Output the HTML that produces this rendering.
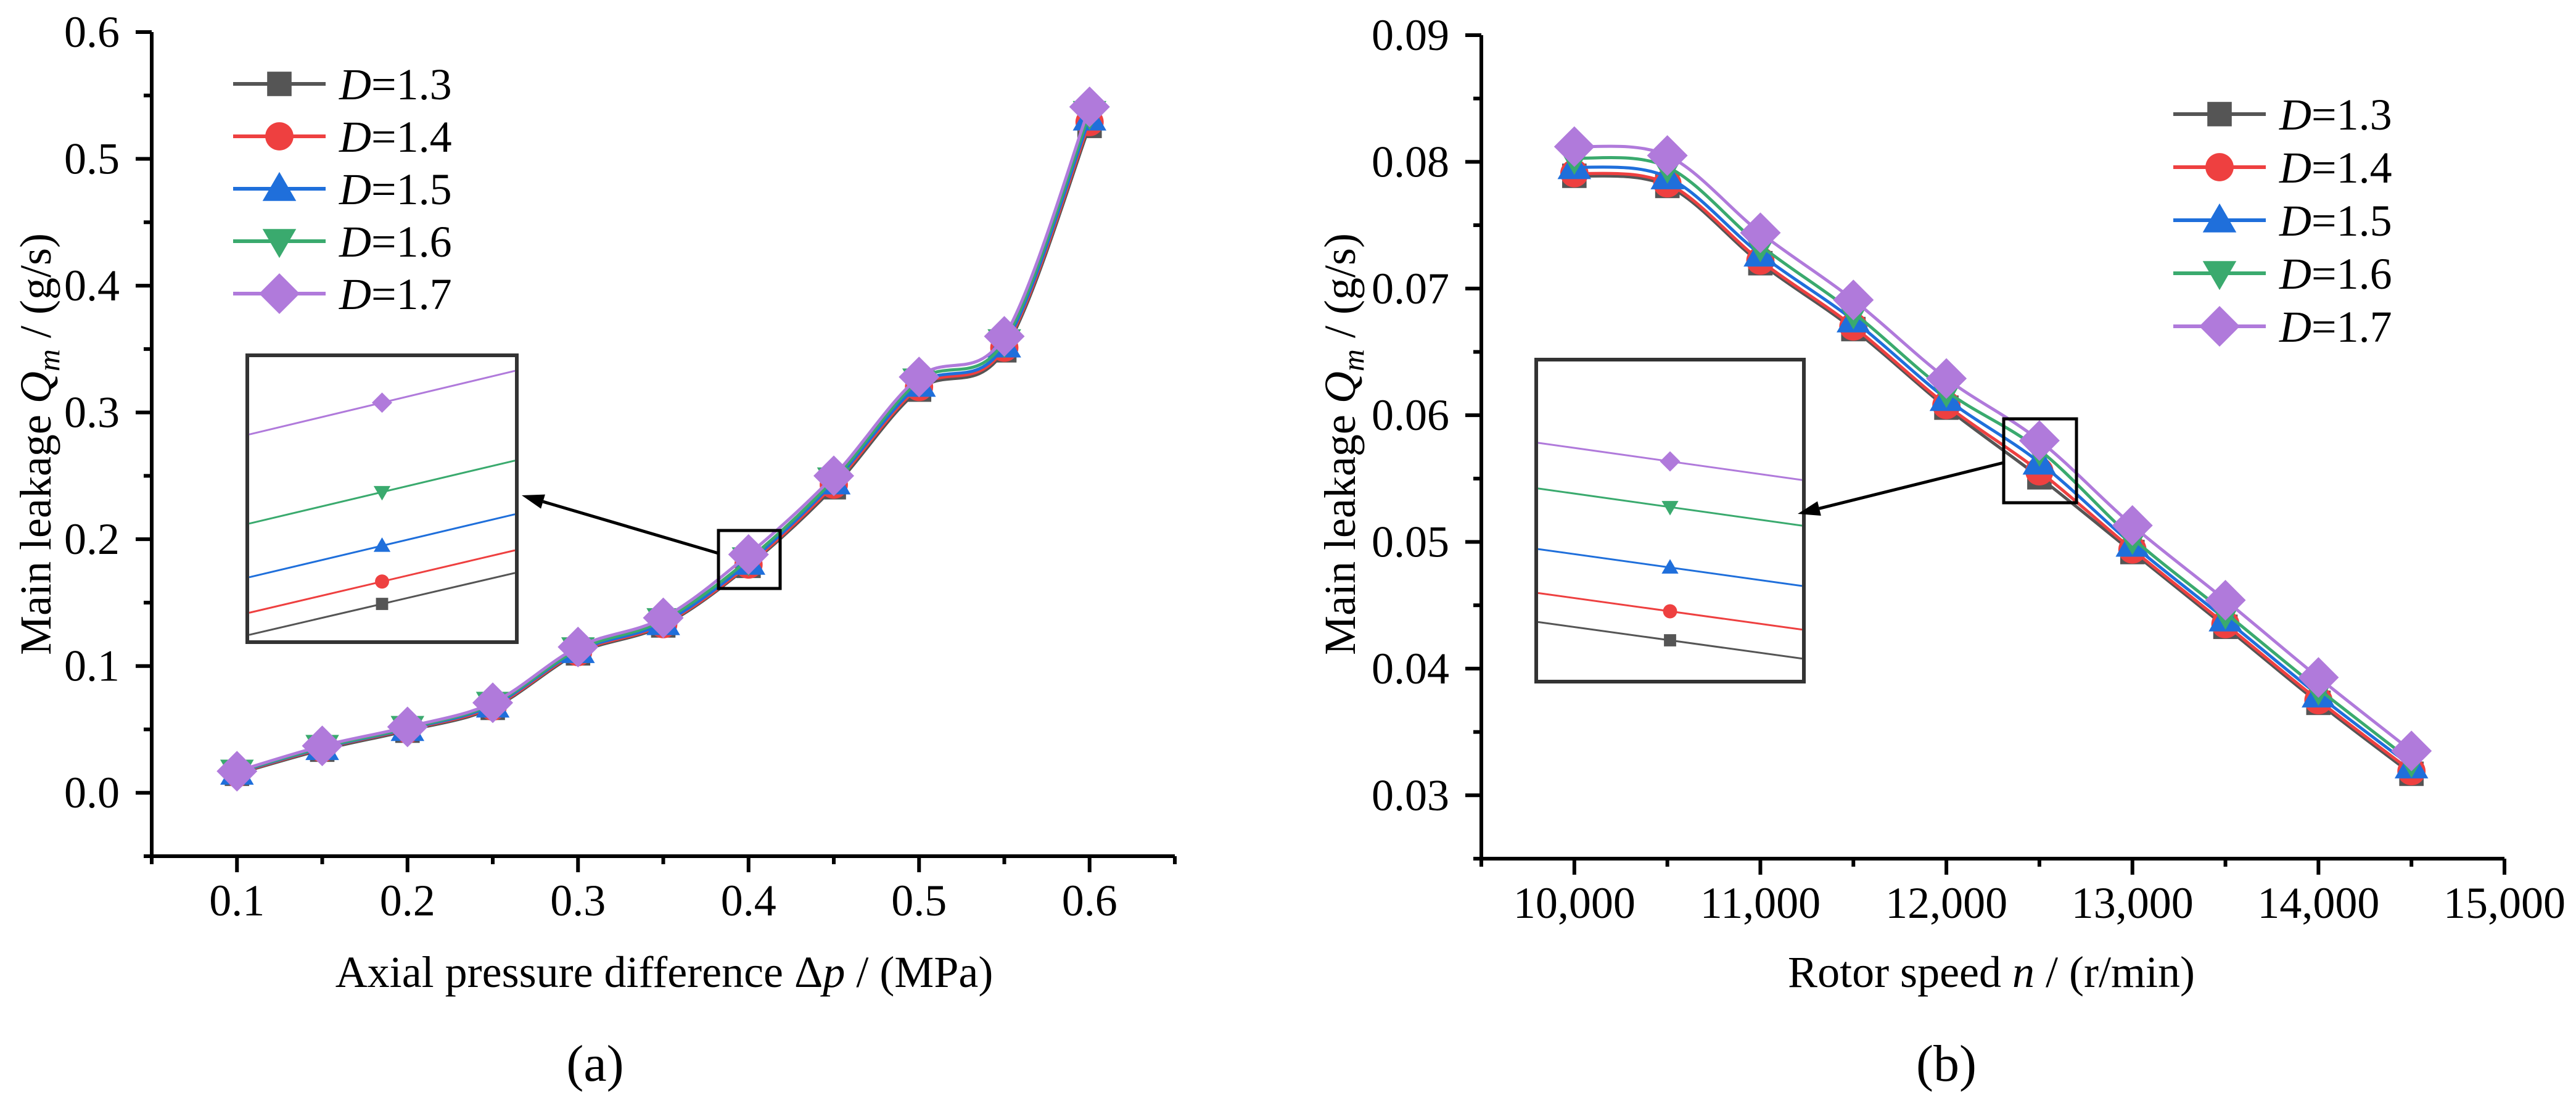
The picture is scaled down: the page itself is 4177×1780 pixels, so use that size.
<!DOCTYPE html>
<html><head><meta charset="utf-8"><style>
html,body{margin:0;padding:0;background:#fff;}
svg{display:block;font-family:"Liberation Serif",serif;}
</style></head><body>
<svg id="svg" width="4177" height="1780" viewBox="0 0 4177 1780" xmlns="http://www.w3.org/2000/svg"></svg>
<script>
const seriesNames = ["1.3","1.4","1.5","1.6","1.7"];
const seriesColors = ["#555555","#EE4040","#1F6FDB","#3AAA6E","#B07ADB"];
const seriesMarkers = ["square","circle","triangle","tridown","diamond"];

const aX = [0.1,0.15,0.2,0.25,0.3,0.35,0.4,0.45,0.5,0.55,0.6];
const aD13 = [0.015,0.034,0.049,0.067,0.110,0.132,0.179,0.241,0.318,0.349,0.526];
const aD14 = [0.0155,0.035,0.050,0.068,0.111,0.133,0.180,0.243,0.320,0.351,0.529];
const aD15 = [0.016,0.0355,0.0505,0.069,0.112,0.134,0.1816,0.245,0.322,0.353,0.532];
const aD16 = [0.0165,0.036,0.051,0.070,0.113,0.136,0.184,0.247,0.325,0.356,0.536];
const aD17 = [0.017,0.037,0.052,0.071,0.115,0.138,0.188,0.250,0.328,0.360,0.541];
const aXTicks = ["0.1","0.2","0.3","0.4","0.5","0.6"];
const aYTicks = ["0.0","0.1","0.2","0.3","0.4","0.5","0.6"];

const bX = [10000,10500,11000,11500,12000,12500,13000,13500,14000,14500];
const bD13 = [0.0789,0.0781,0.0720,0.0668,0.0606,0.0551,0.0492,0.0433,0.0373,0.0317];
const bD14 = [0.0791,0.0783,0.0722,0.0670,0.0608,0.05557,0.0494,0.0435,0.0375,0.0319];
const bD15 = [0.0796,0.0788,0.0727,0.0675,0.0613,0.05628,0.0498,0.0439,0.0379,0.0323];
const bD16 = [0.0803,0.0796,0.0734,0.0681,0.0619,0.05726,0.0503,0.0444,0.0384,0.0327];
const bD17 = [0.0812,0.0805,0.0744,0.0691,0.0629,0.0580,0.0513,0.0454,0.0393,0.0335];
const bXTicks = ["10,000","11,000","12,000","13,000","14,000","15,000"];
const bYTicks = ["0.03","0.04","0.05","0.06","0.07","0.08","0.09"];

const NS="http://www.w3.org/2000/svg";
const svg=document.getElementById('svg');
function el(tag,attrs,parent){const e=document.createElementNS(NS,tag);for(const k in attrs)e.setAttribute(k,attrs[k]);(parent||svg).appendChild(e);return e;}
function lin(d0,d1,r0,r1){return v=>r0+(v-d0)/(d1-d0)*(r1-r0);}

function marker(g,type,x,y,s,color){
  let m;
  if(type==="square"){m=el('rect',{x:x-s*0.45,y:y-s*0.45,width:s*0.9,height:s*0.9,fill:color},g);}
  else if(type==="circle"){m=el('circle',{cx:x,cy:y,r:s*0.52,fill:color},g);}
  else if(type==="triangle"){m=el('polygon',{points:`${x},${y-s*0.62} ${x-s*0.62},${y+s*0.45} ${x+s*0.62},${y+s*0.45}`,fill:color},g);}
  else if(type==="tridown"){m=el('polygon',{points:`${x},${y+s*0.62} ${x-s*0.62},${y-s*0.45} ${x+s*0.62},${y-s*0.45}`,fill:color},g);}
  else {m=el('polygon',{points:`${x},${y-s*0.75} ${x+s*0.75},${y} ${x},${y+s*0.75} ${x-s*0.75},${y}`,fill:color},g);}
  
  
  return m;
}
function smoothPath(pts){
  let d=`M${pts[0][0]},${pts[0][1]}`;
  for(let i=0;i<pts.length-1;i++){
    const p0=pts[Math.max(0,i-1)],p1=pts[i],p2=pts[i+1],p3=pts[Math.min(pts.length-1,i+2)];
    const c1=[p1[0]+(p2[0]-p0[0])/6,p1[1]+(p2[1]-p0[1])/6];
    const c2=[p2[0]-(p3[0]-p1[0])/6,p2[1]-(p3[1]-p1[1])/6];
    d+=` C${c1[0]},${c1[1]} ${c2[0]},${c2[1]} ${p2[0]},${p2[1]}`;
  }
  return d;
}

function chart(cfg){
  const g=el('g',{});
  
  
  const sx=lin(cfg.xd[0],cfg.xd[1],cfg.L,cfg.R), sy=lin(cfg.yd[0],cfg.yd[1],cfg.B,cfg.T);
  const ax=el('path',{d:`M${cfg.L},${cfg.T} L${cfg.L},${cfg.B} L${cfg.R},${cfg.B}`,fill:'none',stroke:'#000','stroke-width':6},g);
  
  
  for(let v=cfg.yd[0];v<=cfg.yd[1]+1e-9;v+=cfg.yMinor){
    const y=sy(v); const idx=Math.round((v-cfg.yTick0)/cfg.yMajor*1e6)/1e6;
    const major=Math.abs(idx-Math.round(idx))<1e-6 && idx>=0;
    const t=el('line',{x1:cfg.L-(major?26:13),x2:cfg.L,y1:y,y2:y,stroke:'#000','stroke-width':6},g);
    
    
  }
  cfg.yLabels.forEach((lab,i)=>{
    const t=el('text',{x:cfg.L-52,y:sy(cfg.yTick0+i*cfg.yMajor)+24,'font-size':72,'text-anchor':'end'},g);
    t.textContent=lab;
    
    
  });
  for(let v=cfg.xd[0];v<=cfg.xd[1]+1e-9;v+=cfg.xMinor){
    const x=sx(v); const idx=(v-cfg.xTick0)/cfg.xMajor;
    const major=Math.abs(idx-Math.round(idx))<1e-6 && idx>-1e-6;
    const t=el('line',{x1:x,x2:x,y1:cfg.B,y2:cfg.B+(major?26:13),stroke:'#000','stroke-width':6},g);
    
    
  }
  cfg.xLabels.forEach((lab,i)=>{
    const t=el('text',{x:sx(cfg.xTick0+i*cfg.xMajor),y:cfg.B+96,'font-size':72,'text-anchor':'middle'},g);
    t.textContent=lab;
    
    
  });
  const yt=el('text',{x:0,y:0,'font-size':72,'text-anchor':'middle',transform:`translate(${cfg.ytx},${cfg.yty}) rotate(-90)`},g);
  yt.innerHTML='Main leakage <tspan font-style="italic">Q</tspan><tspan font-style="italic" font-size="50" dy="14">m</tspan><tspan dy="-14"> / (g/s)</tspan>';
  
  
  const xt=el('text',{x:cfg.xtx,y:1600,'font-size':72,'text-anchor':'middle'},g);
  xt.innerHTML=cfg.xTitle;
  
  
  const pl=el('text',{x:cfg.plx,y:1752,'font-size':84,'text-anchor':'middle'},g);
  pl.textContent=cfg.panel;
  
  
  cfg.series.forEach((vals,si)=>{
    const sg=el('g',{},g);
    
    
    const pts=cfg.xs.map((x,i)=>[sx(x),sy(vals[i])]);
    const p=el('path',{d:smoothPath(pts),fill:'none',stroke:seriesColors[si],'stroke-width':5},sg);
    
    
    pts.forEach(pt=>marker(sg,seriesMarkers[si],pt[0],pt[1],44,seriesColors[si]));
  });
  cfg.series.forEach((vals,si)=>{
    const lg=el('g',{},g);
    
    
    const y=cfg.legY[0]+si*cfg.legY[1];
    el('line',{x1:cfg.legX,x2:cfg.legX+150,y1:y,y2:y,stroke:seriesColors[si],'stroke-width':6},lg);
    marker(lg,seriesMarkers[si],cfg.legX+75,y,44,seriesColors[si]);
    const t=el('text',{x:cfg.legX+172,y:y+25,'font-size':72},lg);
    t.innerHTML='<tspan font-style="italic">D</tspan>='+seriesNames[si];
  });
  const ci=cfg.ci;
  const zr=el('rect',{x:cfg.zr[0],y:cfg.zr[1],width:cfg.zr[2],height:cfg.zr[3],fill:'none',stroke:'#000','stroke-width':5},g);
  
  
  const ib=cfg.ib;
  const ig=el('g',{},g);
  
  
  el('rect',{x:ib[0],y:ib[1],width:ib[2],height:ib[3],fill:'#fff',stroke:'#333','stroke-width':6},ig);
  const cx=ib[0]+ib[2]/2;
  cfg.series.forEach((vals,si)=>{
    const v=vals[ci], slope=(vals[ci+1]-vals[ci-1])/(cfg.xs[ci+1]-cfg.xs[ci-1]);
    const ym=cfg.iy0-(v-cfg.iref)*cfg.ik;
    const dy=slope*cfg.ih*cfg.ik;
    const l=el('line',{x1:ib[0]+3,x2:ib[0]+ib[2]-3,y1:ym+dy,y2:ym-dy,stroke:seriesColors[si],'stroke-width':3},ig);
    
    
    marker(ig,seriesMarkers[si],cx,ym,22,seriesColors[si]);
  });
  const ar=el('g',{},g);
  
  
  const a=cfg.arrow; const ang=Math.atan2(a[3]-a[1],a[2]-a[0]);
  const hx=a[2]-36*Math.cos(ang), hy=a[3]-36*Math.sin(ang);
  el('line',{x1:a[0],y1:a[1],x2:hx,y2:hy,stroke:'#000','stroke-width':5},ar);
  const px=-Math.sin(ang)*12, py=Math.cos(ang)*12;
  el('polygon',{points:`${a[2]},${a[3]} ${hx+px},${hy+py} ${hx-px},${hy-py}`,fill:'#000'},ar);
}

chart({name:'chart-a',L:246,R:1905,T:52,B:1388,xd:[0.05,0.65],yd:[-0.05,0.6],
  xMinor:0.05,xMajor:0.1,xTick0:0.1,yMinor:0.05,yMajor:0.1,yTick0:0,
  xLabels:aXTicks,yLabels:aYTicks,xs:aX,series:[aD13,aD14,aD15,aD16,aD17],
  ytx:82,yty:720,xtx:1077,plx:965,panel:'(a)',
  xTitle:'Axial pressure difference Δ<tspan font-style="italic">p</tspan> / (MPa)',
  legX:378,legY:[136,85],
  zr:[1165,860,100,94],ib:[401,576,437,465],ci:6,iy0:979,iref:0.179,ik:36250,ih:0.00127,
  arrow:[1165,897,846,803]});
chart({name:'chart-b',L:2402,R:4061,T:57,B:1392,xd:[9500,15000],yd:[0.025,0.09],
  xMinor:500,xMajor:1000,xTick0:10000,yMinor:0.005,yMajor:0.01,yTick0:0.03,
  xLabels:bXTicks,yLabels:bYTicks,xs:bX,series:[bD13,bD14,bD15,bD16,bD17],
  ytx:2197,yty:720,xtx:3229,plx:3156,panel:'(b)',
  xTitle:'Rotor speed <tspan font-style="italic">n</tspan> / (r/min)',
  legX:3524,legY:[185,86],
  zr:[3249,679,118,136],ib:[2491,583,434,522],ci:5,iy0:1038,iref:0.0551,ik:100000,ih:26,
  arrow:[3249,750,2915,833]});
</script>
</body></html>
